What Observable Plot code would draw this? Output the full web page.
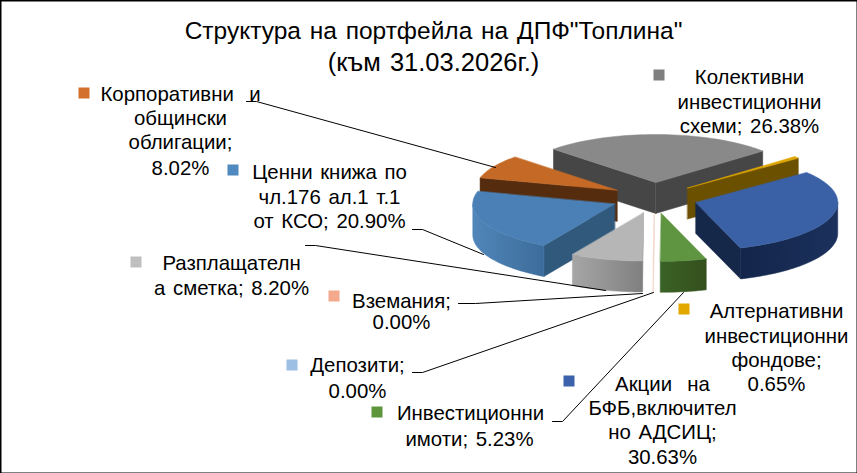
<!DOCTYPE html>
<html><head><meta charset="utf-8">
<script src="https://cdn.jsdelivr.net/npm/d3@7"></script>
<script src="https://cdn.jsdelivr.net/npm/@observablehq/plot@0.6"></script>
<style>body{margin:0;background:#fff}svg text{word-spacing:2px}</style>
</head><body><script>
// ---- data ----
const categories = ["Колективни инвестиционни схеми","Алтернативни инвестиционни фондове","Акции на БФБ","Инвестиционни имоти","Депозити","Вземания","Разплащателна сметка","Ценни книжа","Корпоративни и общински облигации"];
const values = [26.38,0.65,30.63,5.23,0,0,8.20,20.90,8.02];
const labelLines = [
 ["Колективни","инвестиционни","схеми; %"],
 ["Алтернативни","инвестиционни","фондове;","%"],
 ["Акции  на","БФБ,включител","но АДСИЦ;","%"],
 ["Инвестиционни","имоти; %"],
 ["Депозити;","%"],
 ["Вземания;","%"],
 ["Разплащателн","а сметка; %"],
 ["Ценни книжа по","чл.176 ал.1 т.1","от КСО; %"],
 ["Корпоративни  и","общински","облигации;","%"]
];
const titleLines = ["Структура на портфейла на ДПФ\"Топлина\"","(към 31.03.2026г.)"];
// ---- style ----
const topColor  = ["#898989","#dfa600","#3a60a6","#5f9440","#9dc0e4","#f4b09a","#b6b6b6","#4a80b5","#c56a26"];
const keyColor  = ["#7f7f7f","#e2a800","#3b62aa","#5e963c","#9dbfe3","#f4a98c","#bfbfbf","#4f89bf","#d2702c"];
const wallColor = ["#464646","#6b5000","#16284a","#36561f","#f3d9cc","#f3d9cc","#8c8c8c","#30597c","#562c0f"];
const rimLeft   = ["#3b3b3b","#6b5000","#13254a","#3b6326","#f3d9cc","#f3d9cc","#a6a6a6","#5186ba","#562c0f"];
const rimRight  = ["#4d4d4d","#6b5000","#1b315c","#344f1d","#f3d9cc","#f3d9cc","#808080","#3c6c9a","#562c0f"];
// ---- layout of the picture ----
const W = 857, H = 473;
const pie = {cx:654, cy:197.5, rx:142, ry:48, depth:31, explode:43, explodeY:15.5, start:-46};
const labelX = [[749,749,749],[776,776,776,776],[662,662,662,662],[470,469],[357,357],[401,401],[231,231],[329,329,329],[180,180,180,180]];
const labelY = [[77,102,126],[311,336,360,384],[384,408,432,457],[413,439],[365,391],[301,322],[263,288],[172,197,221],[94,118,142,168]];
const keyX = [659,684,569,377,292,334,136,233,84];
const keyY = [75,309,381,412,365,296,262,170,93];
const leaderX = [null,null,null,[552,562,683],[412,422,653],[458,475,642],[305,315,605],[412,422,483],[246,256,495]];
const leaderY = [null,null,null,[421,421,292],[372,372,292],[303,303,293],[245,245,290],[229,229,254],[101,101,167]];

const rad = d => d*Math.PI/180;
let a0 = pie.start;
const slices = values.map((v,i)=>{
  const s = {i, t0:a0, t1:a0+v/100*360}; a0 = s.t1;
  s.mid = (s.t0+s.t1)/2;
  s.ax = pie.cx + pie.explode*Math.sin(rad(s.mid));
  s.ay = pie.cy - pie.explodeY*Math.cos(rad(s.mid));
  return s;
}).sort((a,b)=>Math.cos(rad(b.mid))-Math.cos(rad(a.mid)));
const rimPt = (s,t)=>[s.ax+pie.rx*Math.sin(rad(t)), s.ay-pie.ry*Math.cos(rad(t))];

const polys = [];
let pid = 0;
const add = (pts,color)=>{pid++; pts.forEach(p=>polys.push({id:pid,x:p[0],y:p[1],c:color}));};
for (const s of slices) {
  const d = pie.depth, apex=[s.ax,s.ay];
  const wall = t=>{const p=rimPt(s,t); add([apex,p,[p[0],p[1]+d],[apex[0],apex[1]+d]],wallColor[s.i]);};
  if (s.t1===s.t0) { wall(s.t0); continue; }
  if (Math.sin(rad(s.t0))<0) wall(s.t0);
  if (Math.sin(rad(s.t1))>0) wall(s.t1);
  // front rim: one polygon, shaded by a left-to-right gradient
  const lo = Math.max(s.t0,90), hi = Math.min(s.t1,270);
  if (hi>lo) {
    const ts = d3.range(lo,hi,1.5).concat([hi]);
    const upper = ts.map(t=>rimPt(s,t));
    const lower = upper.map(p=>[p[0],p[1]+d]).reverse();
    add(upper.concat(lower),`url(#rim${s.i})`);
  }
  const top=[apex];
  const n=Math.max(2,Math.ceil((s.t1-s.t0)/2));
  for(let k=0;k<=n;k++) top.push(rimPt(s,s.t0+(s.t1-s.t0)*k/n));
  add(top,topColor[s.i]);
}
const gradients = () => {
  const defs = d3.create("svg:defs");
  const g = defs.selectAll("linearGradient").data(values).join("linearGradient").attr("id",(_,i)=>`rim${i}`);
  g.append("stop").attr("offset",0).attr("stop-color",(_,i)=>rimLeft[i]);
  g.append("stop").attr("offset",1).attr("stop-color",(_,i)=>rimRight[i]);
  return defs.node();
};
const keys = categories.map((c,i)=>({c,x:keyX[i],y:keyY[i],col:keyColor[i]}));
const texts = labelLines.flatMap((ls,i)=>ls.map((l,j)=>({t:l.replace("%",values[i].toFixed(2)+"%"),x:labelX[i][j],y:labelY[i][j]})));
const leaders = leaderX.flatMap((xs,i)=>xs?xs.map((x,j)=>({i,x,y:leaderY[i][j]})):[]);
const titles = titleLines.map((t,j)=>({t,y:[31,62][j],fs:[24.5,25.5][j]}));

const chart = Plot.plot({
  width:W,height:H,margin:0,
  x:{domain:[0,W],range:[0,W],axis:null},
  y:{domain:[0,H],range:[0,H],axis:null},
  color:{type:"identity"},
  style:{fontFamily:"'Liberation Sans',Arial,sans-serif",background:"#fff",color:"#000"},
  marks:[
    gradients,
    Plot.line(polys,{x:"x",y:"y",z:"id",fill:"c",stroke:"c",strokeWidth:0.5,curve:"linear-closed"}),
    Plot.line(leaders,{x:"x",y:"y",z:"i",stroke:"#000",strokeWidth:1}),
    Plot.rect(keys,{x1:d=>d.x-5.5,x2:d=>d.x+5.5,y1:d=>d.y-5.5,y2:d=>d.y+5.5,fill:"col",inset:0}),
    Plot.text(texts,{x:"x",y:"y",text:"t",fontSize:20.4,fill:"#000",textAnchor:"middle",lineAnchor:"middle"}),
    Plot.text(titles,{x:()=>433,y:"y",text:"t",fontSize:"fs",fill:"#000",textAnchor:"middle",lineAnchor:"middle"}),
    Plot.frame({stroke:"#000",strokeWidth:2})
  ]
});
document.body.appendChild(chart);
</script></body></html>
